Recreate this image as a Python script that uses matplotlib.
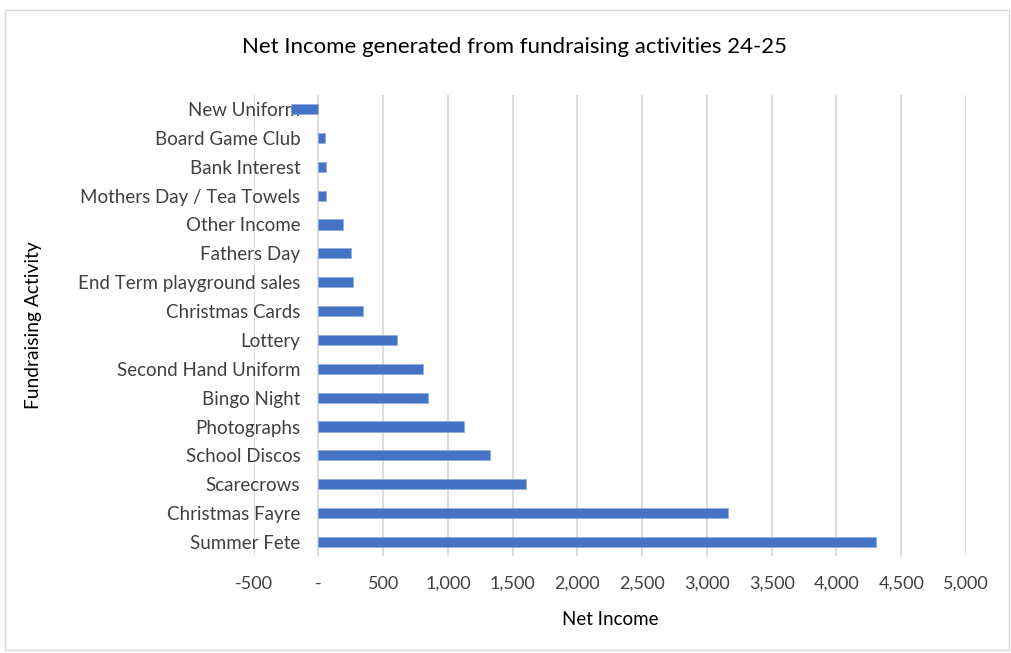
import matplotlib.pyplot as plt
from matplotlib.ticker import FuncFormatter
from matplotlib.patches import Rectangle

plt.rcParams['font.family'] = ['Lato', 'DejaVu Sans']

# Fundraising activities, top to bottom as shown
activities = ['New Uniform', 'Board Game Club', 'Bank Interest', 'Mothers Day / Tea Towels',
              'Other Income', 'Fathers Day', 'End Term playground sales', 'Christmas Cards',
              'Lottery', 'Second Hand Uniform', 'Bingo Night', 'Photographs',
              'School Discos', 'Scarecrows', 'Christmas Fayre', 'Summer Fete']
net_income = [-215, 52, 57, 62, 191, 250, 271, 348, 606, 809, 843, 1124, 1325, 1605, 3166, 4305]

fig = plt.figure(figsize=(10.12, 6.53), dpi=100)
ax = fig.add_axes([253.6 / 1012, 1 - 556.4 / 653, (966 - 253.6) / 1012, (556.4 - 94.6) / 653])

# chart area border
fig.patches.append(Rectangle((5 / 1012, 3 / 653), 1004 / 1012, 640 / 653, transform=fig.transFigure,
                             fill=False, edgecolor='#D9D9D9', linewidth=1))

pos = list(range(len(activities)))
ax.barh(pos, net_income, height=0.35, color='#4472C4', edgecolor='#8FAADC', linewidth=0.5, zorder=3)
ax.set_yticks(pos)
ax.set_yticklabels(activities)
ax.set_ylim(len(activities) - 0.5, -0.5)

ax.set_xlim(-500, 5000)
ax.set_xticks(range(-500, 5001, 500))
ax.xaxis.set_major_formatter(FuncFormatter(lambda v, p: '-' if v == 0 else f'{v:,.0f}'))
ax.grid(axis='x', color='#D9D9D9', linewidth=1.3, zorder=0)

for s in ax.spines.values():
    s.set_visible(False)
# category labels sit against the zero line, like Excel
ax.spines['left'].set_position(('data', 0))
ax.tick_params(length=0, labelsize=13.5, labelcolor='#404040')
ax.tick_params(axis='x', labelsize=13, pad=14)
ax.tick_params(axis='y', pad=13)

ax.set_xlabel('Net Income', fontsize=13.5, labelpad=14)
ax.set_ylabel('Fundraising Activity', fontsize=13.75)
ax.yaxis.set_label_coords(-(253.6 - 42) / (966 - 253.6), 0.5)
fig.text(0.508, 1 - 47 / 653, 'Net Income generated from fundraising activities 24-25',
         ha='center', va='center', fontsize=16)

plt.savefig('out.png', dpi=100)
